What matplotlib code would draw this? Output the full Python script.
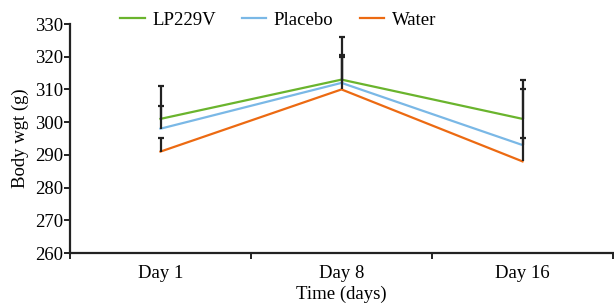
import matplotlib
matplotlib.use("Agg")
import matplotlib.pyplot as plt
import numpy as np

categories = ["Day 1", "Day 8", "Day 16"]
series_names = ["LP229V", "Placebo", "Water"]
lp229v = [301, 313, 301]
placebo = [298, 312, 293]
water = [291, 310, 288]
lp229v_err = [10, 13, 12]
placebo_err = [7, 8.5, 17]
water_err = [4, 10, 7]
yticks = [260, 270, 280, 290, 300, 310, 320, 330]

colors = ["#6ab42d", "#7ab8e6", "#ec6a12"]

plt.rcParams['font.family'] = ['Liberation Serif', 'DejaVu Serif']
fig = plt.figure(figsize=(6.14, 3.03), dpi=100)
W, H = 614, 303
ax = fig.add_axes([70 / W, 1 - 253 / H, (613 - 70) / W, (253 - 24) / H])

x = np.arange(len(categories))
handles = []
for vals, name, c in zip([lp229v, placebo, water], series_names, colors):
    h, = ax.plot(x, vals, color=c, lw=1.6, label=name, zorder=2, solid_joinstyle='miter')
    handles.append(h)
for vals, err in zip([lp229v, placebo, water], [lp229v_err, placebo_err, water_err]):
    vals = np.array(vals, float)
    err = np.array(err, float)
    ax.errorbar(x, vals, yerr=[np.zeros(len(err)), err], fmt='none', ecolor='#222222',
                elinewidth=1.6, capsize=0, zorder=3)
    ax.plot(x, vals + err, linestyle='none', marker='_', markersize=5, markeredgewidth=1.6,
            color='#222222', zorder=3)

fs = 13.5
ax.set_xlim(-0.5, 2.5)
ax.set_ylim(260, 330)
ax.set_yticks(yticks)
ax.set_yticklabels([str(v) for v in yticks], fontsize=fs)
ax.set_xticks([-0.5, 0.5, 1.5, 2.5])
ax.set_xticklabels([])
ax.set_xticks(x, minor=True)
ax.set_xticklabels(categories, minor=True, fontsize=fs)
ax.tick_params(axis='x', which='minor', length=0, pad=9)
ax.tick_params(axis='x', which='major', length=4, width=1.4, color='#222222', direction='out')
ax.tick_params(axis='y', length=4, width=1.4, color='#222222', pad=1)

for s in ['top', 'right']:
    ax.spines[s].set_visible(False)
for s in ['left', 'bottom']:
    ax.spines[s].set_linewidth(1.6)
    ax.spines[s].set_color('#222222')

ax.set_xlabel("Time (days)", fontsize=fs, labelpad=2)
ax.set_ylabel("Body wgt (g)", fontsize=fs, labelpad=4)

fig.legend(handles=handles, labels=series_names, loc='center', bbox_to_anchor=(278 / W, 1 - 20 / H),
           ncol=3, frameon=False, fontsize=fs, handlelength=1.3, columnspacing=1.4, handletextpad=0.4)

fig.savefig("out.png", dpi=100)
